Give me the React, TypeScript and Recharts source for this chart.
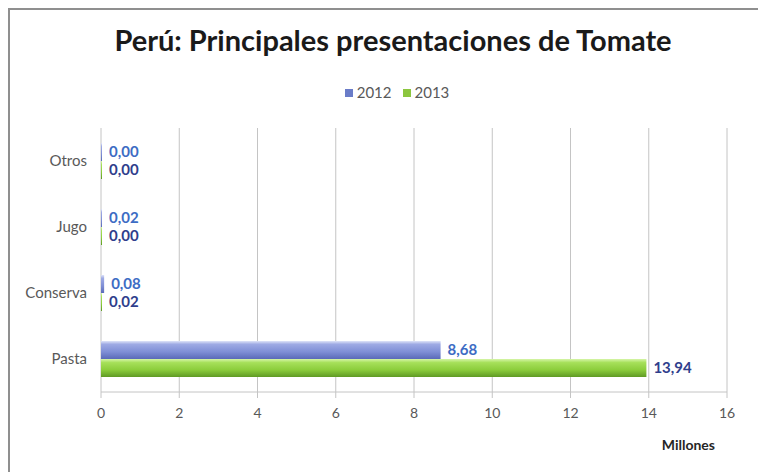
import {
  Bar,
  BarChart,
  CartesianGrid,
  LabelList,
  XAxis,
  YAxis,
} from "recharts";

const categories = ["Otros", "Jugo", "Conserva", "Pasta"];
const values2012 = [0.0, 0.02, 0.08, 8.68];
const values2013 = [0.0, 0.0, 0.02, 13.94];
const xTicks = [0, 2, 4, 6, 8, 10, 12, 14, 16];

const data = categories.map((name, i) => ({
  name,
  y2012: values2012[i],
  y2013: values2013[i],
}));

const FONT = "Lato, 'Open Sans', sans-serif";
const AXIS_GRAY = "#595959";
const GRID = "#c4c4c4";

const fmt = (v: any) => Number(v).toFixed(2).replace(".", ",");

const LegendSwatch = ({ color }: { color: string }) => (
  <span
    style={{
      display: "inline-block",
      width: 8,
      height: 8,
      background: color,
      marginRight: 4,
      verticalAlign: "middle",
      position: "relative",
      top: -1,
    }}
  />
);

export default function App() {
  return (
    <div style={{ position: "relative", width: 758, height: 464, fontFamily: FONT }}>
      {/* chart frame, only left and top edges are in view */}
      <div
        style={{
          position: "absolute",
          left: 0,
          top: 0,
          width: 758,
          height: 464,
          boxSizing: "border-box",
          borderLeft: "2px solid #8f8f8f",
          borderTop: "2px solid #8f8f8f",
        }}
      />

      <div
        style={{
          position: "absolute",
          top: 15,
          left: 0,
          width: 770,
          textAlign: "center",
          fontSize: 29,
          fontWeight: 700,
          lineHeight: "34px",
          color: "#1a1a1a",
        }}
      >
        Perú: Principales presentaciones de Tomate
      </div>

      <div
        style={{
          position: "absolute",
          top: 75,
          left: 0,
          width: 778,
          textAlign: "center",
          fontSize: 15,
          lineHeight: "18px",
          color: AXIS_GRAY,
        }}
      >
        <LegendSwatch color="#6a7cc8" />
        <span style={{ marginRight: 11 }}>2012</span>
        <LegendSwatch color="#8cc63f" />
        <span>2013</span>
      </div>

      <div style={{ position: "absolute", left: 0, top: 0 }}>
        <BarChart
          width={758}
          height={464}
          layout="vertical"
          data={data}
          margin={{ top: 120, right: 39, bottom: 10, left: 0 }}
          barSize={18}
          barGap={0}
        >
          <defs>
            <linearGradient id="grad2012" x1="0" y1="0" x2="0" y2="1">
              <stop offset="0%" stopColor="#dfe4f8" />
              <stop offset="18%" stopColor="#9eaae4" />
              <stop offset="60%" stopColor="#7f8fd6" />
              <stop offset="100%" stopColor="#5a6ab8" />
            </linearGradient>
            <linearGradient id="grad2013" x1="0" y1="0" x2="0" y2="1">
              <stop offset="0%" stopColor="#d6f5a8" />
              <stop offset="20%" stopColor="#a6e05a" />
              <stop offset="60%" stopColor="#8ccd3c" />
              <stop offset="100%" stopColor="#5f9a24" />
            </linearGradient>
          </defs>
          <CartesianGrid horizontal={false} stroke={GRID} />
          <XAxis
            type="number"
            domain={[0, 16]}
            ticks={xTicks}
            height={70}
            axisLine={{ stroke: GRID }}
            tickLine={{ stroke: GRID }}
            tickSize={6}
            tickMargin={10}
            tick={{ fill: AXIS_GRAY, fontSize: 14, fontFamily: FONT }}
            label={{
              value: "Millones",
              position: "insideBottomRight",
              offset: 12,
              fill: "#262626",
              fontSize: 14,
              fontWeight: 700,
              fontFamily: FONT,
            }}
          />
          <YAxis
            type="category"
            dataKey="name"
            width={93}
            axisLine={false}
            tickLine={false}
            tickMargin={8}
            tick={{ fill: AXIS_GRAY, fontSize: 15, fontFamily: FONT }}
          />
          <Bar
            dataKey="y2012"
            name="2012"
            fill="url(#grad2012)"
            minPointSize={1}
            isAnimationActive={false}
          >
            <LabelList
              dataKey="y2012"
              position="right"
              offset={7}
              formatter={fmt}
              fill="#3d6cc4"
              fontSize={15}
              fontWeight={700}
              fontFamily={FONT}
            />
          </Bar>
          <Bar
            dataKey="y2013"
            name="2013"
            fill="url(#grad2013)"
            minPointSize={1}
            isAnimationActive={false}
          >
            <LabelList
              dataKey="y2013"
              position="right"
              offset={7}
              formatter={fmt}
              fill="#2f3e8c"
              fontSize={15}
              fontWeight={700}
              fontFamily={FONT}
            />
          </Bar>
        </BarChart>
      </div>
    </div>
  );
}
